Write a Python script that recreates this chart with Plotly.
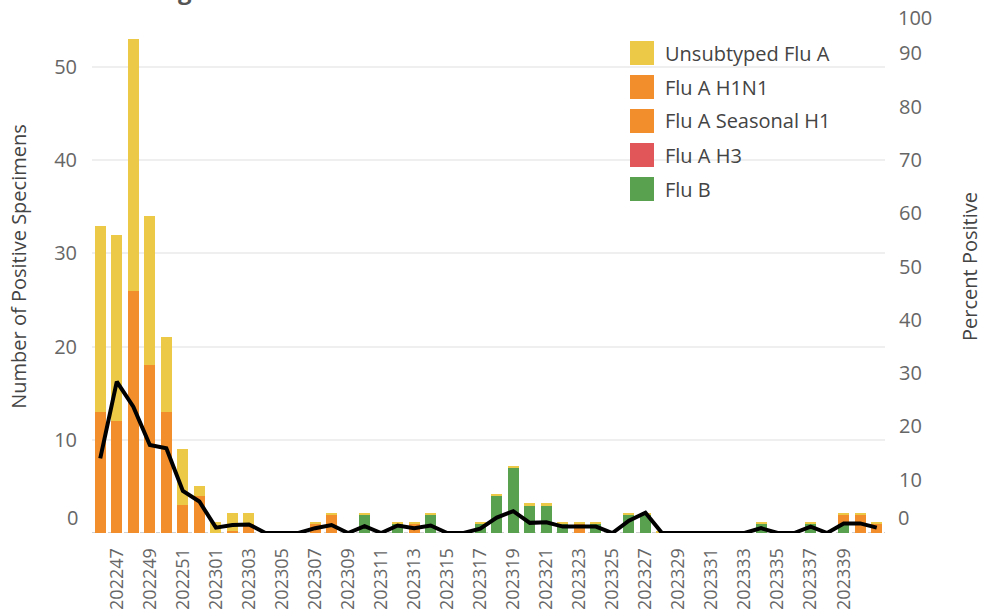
import plotly.graph_objects as go

# ---------------- data ----------------
weeks = ["202246", "202247", "202248", "202249", "202250", "202251", "202252",
         "202301", "202302", "202303", "202304", "202305", "202306", "202307",
         "202308", "202309", "202310", "202311", "202312", "202313", "202314",
         "202315", "202316", "202317", "202318", "202319", "202320", "202321",
         "202322", "202323", "202324", "202325", "202326", "202327", "202328",
         "202329", "202330", "202331", "202332", "202333", "202334", "202335",
         "202336", "202337", "202338", "202339", "202340", "202341"]

flu_b = [None, None, None, None, None, None, None,
         None, None, None, None, None, None, None,
         None, None, 2, None, 1, None, 2,
         None, None, 1, 4, 7, 3, 3,
         1, None, 1, None, 2, 2, None,
         None, None, None, None, None, 1, None,
         None, 1, None, 1, None, None]

flu_a_h3 = [None, None, None, None, None, None, None,
            None, None, None, None, None, None, None,
            None, None, None, None, None, None, None,
            None, None, None, None, None, None, None,
            None, None, None, None, None, None, None,
            None, None, None, None, None, None, None,
            None, None, None, None, None, None]

flu_a_seasonal_h1 = [None, None, None, None, None, None, None,
                     None, None, None, None, None, None, None,
                     None, None, None, None, None, None, None,
                     None, None, None, None, None, None, None,
                     None, None, None, None, None, None, None,
                     None, None, None, None, None, None, None,
                     None, None, None, None, None, None]

flu_a_h1n1 = [13, 12, 26, 18, 13, 3, 4,
              None, 0.2, 1, None, None, None, 1,
              2, None, None, None, None, 1, None,
              None, None, None, None, None, None, None,
              None, 1, None, None, None, None, None,
              None, None, None, None, None, None, None,
              None, None, None, 1, 2, 1]

unsubtyped_flu_a = [20, 20, 27, 16, 8, 6, 1,
                    1.2, 2, 1.2, None, None, None, 0.2,
                    0.2, None, 0.2, None, 0.2, 0.2, 0.2,
                    None, None, 0.2, 0.2, 0.2, 0.2, 0.2,
                    0.2, 0.2, 0.2, None, 0.2, 0.2, 0.2,
                    None, None, None, None, None, 0.2, None,
                    None, 0.2, None, 0.2, 0.2, 0.2]

percent_positive = [14.0, 28.4, 23.7, 16.5, 15.9, 7.9, 5.9,
                    1.0, 1.5, 1.6, 0, 0, 0, 0.9,
                    1.5, 0, 1.3, 0, 1.4, 0.9, 1.4,
                    0, 0, 0.8, 2.9, 4.1, 1.9, 2.0,
                    1.2, 1.2, 1.2, 0, 2.3, 3.8, 0,
                    0, 0, 0, 0, 0, 0.9, 0,
                    0, 1.2, 0, 1.8, 1.8, 1.0]

x_tick_labels = weeks[1:46:2]
left_tick_values = [10, 20, 30, 40, 50]
right_tick_values = [10, 20, 30, 40, 50, 60, 70, 80, 90]

series_names = ["Unsubtyped Flu A", "Flu A H1N1", "Flu A Seasonal H1", "Flu A H3", "Flu B"]

# ---------------- styles ----------------
FONT = "Open Sans"
colors = {
    "Unsubtyped Flu A": "#EDC948",
    "Flu A H1N1": "#F28E2B",
    "Flu A Seasonal H1": "#F28E2B",
    "Flu A H3": "#E15759",
    "Flu B": "#59A14F",
}
TICK_COLOR = "#666666"
TITLE_COLOR = "#444444"

W, H = 983, 611
ML, MR, MT, MB = 92, 98, 0, 78
PW, PH = W - ML - MR, H - MT - MB


def px_x(px):
    return (px - ML) / PW


def px_y(py):
    return (H - MB - py) / PH


fig = go.Figure()

stack = [("Flu B", flu_b), ("Flu A H3", flu_a_h3),
         ("Flu A Seasonal H1", flu_a_seasonal_h1), ("Flu A H1N1", flu_a_h1n1),
         ("Unsubtyped Flu A", unsubtyped_flu_a)]
for name, vals in stack:
    fig.add_trace(go.Bar(x=weeks, y=vals, name=name, marker_color=colors[name],
                         marker_line_width=0, showlegend=False))

fig.add_trace(go.Scatter(x=weeks, y=percent_positive, name="Percent Positive",
                         mode="lines", line=dict(color="#000000", width=4),
                         yaxis="y2", showlegend=False))

fig.update_layout(
    width=W, height=H,
    margin=dict(l=ML, r=MR, t=MT, b=MB),
    paper_bgcolor="white", plot_bgcolor="white",
    barmode="stack", bargap=0.33,
    font=dict(family=FONT, size=20, color=TITLE_COLOR),
    xaxis=dict(type="category", tickmode="array", tickvals=x_tick_labels,
               ticktext=x_tick_labels, tickangle=-90,
               tickfont=dict(family=FONT, size=18, color=TICK_COLOR),
               ticks="outside", ticklen=7, tickcolor="rgba(0,0,0,0)",
               showgrid=False, zeroline=False, showline=False,
               automargin=False),
    yaxis=dict(range=[0, 57.2], tickmode="array", tickvals=left_tick_values,
               tickfont=dict(family=FONT, size=20, color=TICK_COLOR),
               ticks="outside", ticklen=10, tickcolor="rgba(0,0,0,0)",
               showgrid=True, gridcolor="#EFEFEF", gridwidth=2,
               zeroline=False, showline=False, automargin=False,
               title=dict(text="Number of Positive Specimens",
                          font=dict(family=FONT, size=20, color=TITLE_COLOR),
                          standoff=22)),
    yaxis2=dict(range=[0, 100], overlaying="y", side="right",
                tickmode="array", tickvals=right_tick_values,
                tickfont=dict(family=FONT, size=20, color=TICK_COLOR),
                ticks="outside", ticklen=9, tickcolor="rgba(0,0,0,0)",
                showgrid=False, zeroline=False, showline=False, automargin=False,
                title=dict(text="Percent Positive",
                           font=dict(family=FONT, size=20, color=TITLE_COLOR),
                           standoff=42)),
)

shapes = []
annotations = []

# dotted baseline
shapes.append(dict(type="line", xref="paper", yref="y", x0=0, x1=1, y0=0, y1=0,
                   line=dict(color="#D0D0D0", width=2, dash="4px,4px"), layer="below"))

# edge tick labels (drawn nudged inward like the reference)
annotations.append(dict(text="0", xref="paper", yref="y", x=0, y=0, xanchor="right",
                        yanchor="middle", xshift=-12, yshift=16, showarrow=False,
                        font=dict(family=FONT, size=20, color=TICK_COLOR)))
annotations.append(dict(text="0", xref="paper", yref="y2", x=1, y=0, xanchor="left",
                        yanchor="middle", xshift=11, yshift=16, showarrow=False,
                        font=dict(family=FONT, size=20, color=TICK_COLOR)))
annotations.append(dict(text="100", xref="paper", yref="y2", x=1, y=100, xanchor="left",
                        yanchor="middle", xshift=11, yshift=-17, showarrow=False,
                        font=dict(family=FONT, size=20, color=TICK_COLOR)))

# clipped chart title at the very top
annotations.append(dict(text="<b>Flu Testing</b>", xref="paper", yref="paper",
                        x=px_x(194), y=1, xanchor="right", yanchor="bottom",
                        yshift=-8, showarrow=False,
                        font=dict(family=FONT, size=24, color="#555555")))

# custom legend
shapes.append(dict(type="rect", xref="paper", yref="paper",
                   x0=px_x(625), x1=px_x(838), y0=px_y(205), y1=px_y(36),
                   fillcolor="white", line=dict(width=0), layer="between"))
for i, name in enumerate(series_names):
    cy = px_y(53 + 34 * i)
    shapes.append(dict(type="rect", xref="paper", yref="paper",
                       xsizemode="pixel", ysizemode="pixel",
                       xanchor=px_x(630), yanchor=cy, x0=0, x1=24, y0=-12, y1=12,
                       fillcolor=colors[name], line=dict(width=0), layer="above"))
    annotations.append(dict(text=name, xref="paper", yref="paper", x=px_x(663), y=cy,
                            xanchor="left", yanchor="middle", showarrow=False,
                            font=dict(family=FONT, size=20, color=TITLE_COLOR)))

fig.update_layout(shapes=shapes, annotations=annotations)

fig.write_html("out.html",
               config={"displayModeBar": False},
               post_script="document.body.style.margin='0px';"
                           "document.body.style.overflow='hidden';")
